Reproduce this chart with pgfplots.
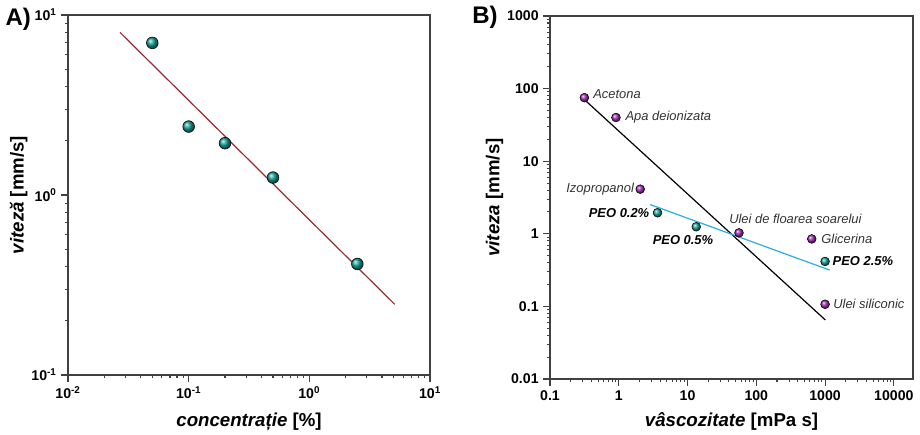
\documentclass[border=0pt]{standalone}
\usepackage{pgfplots}
\pgfplotsset{compat=1.18}
\usepackage{fontspec}
\setmainfont{Liberation Sans}
\definecolor{tealball}{HTML}{16A095}
\definecolor{purpball}{HTML}{A22DB5}
\definecolor{fitred}{HTML}{9B2A2A}
\definecolor{fitblue}{HTML}{2AAEE0}
\definecolor{axgray}{HTML}{404040}
\pgfplotsset{
  myaxis/.style={
    scale only axis,
    anchor=south west,
    axis line style={axgray, line width=1.1pt},
    tick style={axgray, line width=0.8pt},
    tick align=outside,
    tick pos=left,
    major tick length=5pt,
    minor tick length=2.6pt,
    tick label style={font=\fontsize{10.6}{12}\selectfont\bfseries},
    label style={font=\fontsize{14}{16}\selectfont\bfseries},
    clip=false,
  },
}
\begin{document}
\begin{tikzpicture}
\path[use as bounding box] (0,0) rectangle (690pt,326.25pt);
% ---------- Panel A ----------
\begin{axis}[myaxis,
  at={(51pt,45pt)}, width=271.5pt, height=270pt,
  xmode=log, ymode=log,
  xmin=0.01, xmax=10, ymin=0.1, ymax=10,
  xtick={0.01,0.1,1,10},
  xticklabels={10\textsuperscript{-2},10\textsuperscript{-1},10\textsuperscript{0},10\textsuperscript{1}},
  ytick={0.1,1,10},
  yticklabels={10\textsuperscript{-1},10\textsuperscript{0},10\textsuperscript{1}},
  xlabel={\textit{concentrație} [\%]},
  ylabel={\textit{viteză} [mm/s]},
  xlabel style={yshift=-4pt},
  ylabel style={yshift=-4pt},
]
\addplot[fitred, line width=0.9pt] coordinates {(0.027,8.0) (5.1,0.247)};
\addplot[only marks, mark=ball, mark size=4.4pt, ball color=tealball] coordinates {
(0.05,7.0) (0.1,2.4) (0.2,1.94) (0.5,1.25) (2.5,0.414)};
\end{axis}
\node[font=\fontsize{18}{20}\selectfont\bfseries, anchor=west, inner sep=0pt] at (4pt,312pt) {A)};
% ---------- Panel B ----------
\begin{axis}[myaxis,
  at={(412.5pt,42pt)}, width=272.25pt, height=272.25pt,
  xmode=log, ymode=log,
  xmin=0.1, xmax=19000, ymin=0.01, ymax=1000,
  xtick={0.1,1,10,100,1000,10000},
  xticklabels={0.1,1,10,100,1000,10000},
  ytick={0.01,0.1,1,10,100,1000},
  yticklabels={0.01,0.1,1,10,100,1000},
  xlabel={\textit{vâscozitate} [mPa s]},
  ylabel={\textit{viteza} [mm/s]},
  xlabel style={yshift=-2pt},
  ylabel style={yshift=-4pt},
]
\addplot[black, line width=0.9pt] coordinates {(0.305,72.8) (1010,0.065)};
\addplot[fitblue, line width=0.9pt] coordinates {(2.86,2.53) (1170,0.316)};
\addplot[only marks, mark=ball, mark size=3.3pt, ball color=purpball] coordinates {
(0.316,75) (0.91,40) (2.05,4.12) (56,1.03) (640,0.85) (1000,0.107)};
\addplot[only marks, mark=ball, mark size=3.3pt, ball color=tealball] coordinates {
(3.66,1.95) (13.4,1.25) (1000,0.416)};
\begin{scope}[every node/.style={font=\fontsize{9.7}{11}\selectfont\itshape, text=black!80, inner sep=0pt}]
\node[anchor=west] at ([xshift=6.5pt,yshift=2.5pt]axis cs:0.316,75) {Acetona};
\node[anchor=west] at ([xshift=7pt]axis cs:0.91,40) {Apa deionizata};
\node[anchor=east] at ([xshift=-4.5pt]axis cs:2.05,4.12) {Izopropanol};
\node[anchor=east, font=\fontsize{9.7}{11}\selectfont\bfseries\itshape, text=black] at ([xshift=-6pt]axis cs:3.66,1.95) {PEO 0.2\%};
\node[anchor=north, font=\fontsize{9.7}{11}\selectfont\bfseries\itshape, text=black] at ([xshift=-10pt,yshift=-6pt]axis cs:13.4,1.25) {PEO 0.5\%};
\node[anchor=south west] at ([xshift=-7.5pt,yshift=7pt]axis cs:56,1.03) {Ulei de floarea soarelui};
\node[anchor=west] at ([xshift=7pt]axis cs:640,0.85) {Glicerina};
\node[anchor=west, font=\fontsize{9.7}{11}\selectfont\bfseries\itshape, text=black] at ([xshift=5.5pt]axis cs:1000,0.416) {PEO 2.5\%};
\node[anchor=west] at ([xshift=6pt]axis cs:1000,0.107) {Ulei siliconic};
\end{scope}
\end{axis}
\node[font=\fontsize{18}{20}\selectfont\bfseries, anchor=west, inner sep=0pt] at (354pt,313pt) {B)};
\end{tikzpicture}
\end{document}
